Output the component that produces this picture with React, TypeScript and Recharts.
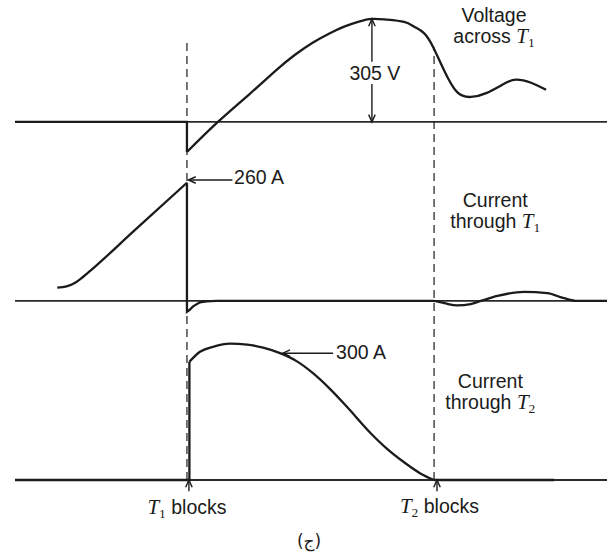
import { Line, LineChart, ReferenceDot, ReferenceLine, XAxis, YAxis } from "recharts";

const INK = "#1b1b1b";
const SANS = "'Liberation Sans', Arial, sans-serif";
const SERIF = "'Liberation Serif', 'Times New Roman', serif";

// time axis (arbitrary units): T1 blocks at t = 0, T2 blocks at t ≈ 100
const T1_BLOCKS = 0;
const T2_BLOCKS = 100.6;

// voltage across T1 (V)
const vFlatT = [-70, 0, 0];
const vFlatV = [0, 0, -89];
const vSwingT = [0, 12.6, 25.7, 36.6, 44, 51, 58, 64, 70, 75.3, 81, 88.4, 92.5, 96.5, 100.2, 104.6, 109.9, 115.6, 122.1, 129.1, 134, 140.1, 146.2];
const vSwingV = [-89, 0, 84, 155, 199, 234, 262, 282, 297, 305, 303, 296, 282, 263, 222, 154, 89, 74, 86, 113, 125, 116, 95];

// current through T1 (A)
const i1RiseT = [-52.8, -49, -45.5, -42.5, -39.4, -21.8, 0];
const i1RiseA = [29, 32, 40, 52, 66, 153, 260];
const i1DropT = [0, 0, 1, 2.5, 5.3, 8, 12];
const i1DropA = [260, -24, -20, -12, -3, -1, 0];
const i1TailT = [12, 60, 100, 104.7, 110, 115.5, 119.6, 126.4, 137.2, 146.7, 153.5, 158.9, 171];
const i1TailA = [0, 0, 0, -5, -10, -7, 0, 11, 20, 17, 6, 0, 0];

// current through T2 (A)
const i2StepT = [-70, 1, 1];
const i2StepA = [0, 0, 260];
const i2PulseT = [1, 5.3, 10.6, 17.5, 24.5, 31, 37.9, 44.8, 51.3, 58.3, 65.3, 74.8, 81.6, 88.4, 95.2, 100.6];
const i2PulseA = [260, 282, 293, 300, 298, 291, 279, 261, 235, 200, 160, 103, 68, 39, 14, 0];
const i2TailT = [100.6, 149.5];
const i2TailA = [0, 0];

const zip = (t: number[], y: number[]) => t.map((x, i) => ({ t: x, y: y[i] }));

const arrowShape = (headStart: boolean, headEnd: boolean) => (p: any) => {
  const { x1, y1, x2, y2 } = p;
  const head = (tx: number, ty: number, fx: number, fy: number) => {
    const a = Math.atan2(ty - fy, tx - fx);
    const L = 8;
    const s = 0.42;
    return `M${tx - L * Math.cos(a - s)},${ty - L * Math.sin(a - s)}L${tx},${ty}L${tx - L * Math.cos(a + s)},${ty - L * Math.sin(a + s)}`;
  };
  return (
    <g stroke={INK} strokeWidth={1.4} fill="none">
      <line x1={x1} y1={y1} x2={x2} y2={y2} />
      {headStart && <path d={head(x1, y1, x2, y2)} />}
      {headEnd && <path d={head(x2, y2, x1, y1)} />}
    </g>
  );
};

const sub = (n: string) => [
  <tspan key="T" fontFamily={SERIF} fontStyle="italic" fontSize={21}>T</tspan>,
  <tspan key="n" fontFamily={SERIF} fontSize={13.5} dy={4}>{n}</tspan>,
];

const note = (key: string, axis: string, t: number, y: number, render: (cx: number, cy: number) => any) => (
  <ReferenceDot
    key={key}
    yAxisId={axis}
    x={t}
    y={y}
    ifOverflow="visible"
    shape={(p: any) => render(p.cx, p.cy)}
  />
);

const textProps = { fill: INK, fontFamily: SANS, fontSize: 19.5 };

export default function App() {
  const curve = (key: string, axis: string, data: any[], type: "linear" | "monotone" | "natural") => (
    <Line
      key={key}
      yAxisId={axis}
      data={data}
      dataKey="y"
      type={type}
      stroke={INK}
      strokeWidth={2.3}
      dot={false}
      activeDot={false}
      isAnimationActive={false}
    />
  );

  return (
    <div style={{ position: "absolute", left: 0, top: 0, width: 608, height: 555, background: "#fff" }}>
      <LineChart width={608} height={555} margin={{ top: 0, right: 1, bottom: 0, left: 15 }}>
        <XAxis type="number" dataKey="t" domain={[-70, 171]} allowDataOverflow hide />
        <YAxis yAxisId="v" type="number" domain={[-1282, 361]} allowDataOverflow hide width={0} />
        <YAxis yAxisId="i1" type="number" domain={[-559, 662]} allowDataOverflow hide width={0} />
        <YAxis yAxisId="i2" type="number" domain={[-165, 1056]} allowDataOverflow hide width={0} />

        {/* zero lines of the three traces */}
        <ReferenceLine yAxisId="v" y={0} stroke="#2a2a2a" strokeWidth={1.8} />
        <ReferenceLine yAxisId="i1" y={0} stroke="#2a2a2a" strokeWidth={1.8} />
        <ReferenceLine yAxisId="i2" y={0} stroke="#2a2a2a" strokeWidth={1.8} />

        {/* blocking instants */}
        <ReferenceLine
          yAxisId="i2"
          segment={[{ x: T1_BLOCKS, y: 0 }, { x: T1_BLOCKS, y: 968 }]}
          ifOverflow="visible"
          stroke={INK}
          strokeWidth={1.2}
          strokeDasharray="8 5"
        />
        <ReferenceLine
          yAxisId="i2"
          segment={[{ x: T2_BLOCKS, y: 0 }, { x: T2_BLOCKS, y: 952 }]}
          ifOverflow="visible"
          stroke={INK}
          strokeWidth={1.2}
          strokeDasharray="8 5"
        />

        {curve("vFlat", "v", zip(vFlatT, vFlatV), "linear")}
        {curve("vSwing", "v", zip(vSwingT, vSwingV), "natural")}
        {curve("i1Rise", "i1", zip(i1RiseT, i1RiseA), "monotone")}
        {curve("i1Drop", "i1", zip(i1DropT, i1DropA), "linear")}
        {curve("i1Tail", "i1", zip(i1TailT, i1TailA), "monotone")}
        {curve("i2Step", "i2", zip(i2StepT, i2StepA), "linear")}
        {curve("i2Pulse", "i2", zip(i2PulseT, i2PulseA), "monotone")}
        {curve("i2Tail", "i2", zip(i2TailT, i2TailA), "linear")}

        {/* 305 V peak marker */}
        <ReferenceLine yAxisId="v" segment={[{ x: 75.3, y: 305 }, { x: 75.3, y: 178 }]} ifOverflow="visible" shape={arrowShape(true, false)} />
        <ReferenceLine yAxisId="v" segment={[{ x: 75.3, y: 112 }, { x: 75.3, y: 0 }]} ifOverflow="visible" shape={arrowShape(false, true)} />
        {/* 260 A and 300 A pointers */}
        <ReferenceLine yAxisId="i1" segment={[{ x: 0.6, y: 266 }, { x: 18.5, y: 266 }]} ifOverflow="visible" shape={arrowShape(true, false)} />
        <ReferenceLine yAxisId="i2" segment={[{ x: 39, y: 279 }, { x: 59.5, y: 279 }]} ifOverflow="visible" shape={arrowShape(true, false)} />
        {/* blocking arrows */}
        <ReferenceLine yAxisId="i2" segment={[{ x: 0.8, y: 0 }, { x: 0.8, y: -25 }]} ifOverflow="visible" shape={arrowShape(true, false)} />
        <ReferenceLine yAxisId="i2" segment={[{ x: 101.8, y: 0 }, { x: 101.8, y: -25 }]} ifOverflow="visible" shape={arrowShape(true, false)} />

        {note("vl", "v", 125, 296, (cx, cy) => (
          <text x={cx} y={cy} textAnchor="middle" {...textProps}>
            <tspan x={cx}>Voltage</tspan>
            <tspan x={cx} dy={21}>across {sub("1")}</tspan>
          </text>
        ))}
        {note("305", "v", 76.5, 124, (cx, cy) => (
          <text x={cx} y={cy} textAnchor="middle" {...textProps}>305 V</text>
        ))}
        {note("260", "i1", 19.2, 258, (cx, cy) => (
          <text x={cx} y={cy} textAnchor="start" {...textProps}>260 A</text>
        ))}
        {note("i1l", "i1", 125.5, 207, (cx, cy) => (
          <text x={cx} y={cy} textAnchor="middle" {...textProps}>
            <tspan x={cx}>Current</tspan>
            <tspan x={cx} dy={21}>through {sub("1")}</tspan>
          </text>
        ))}
        {note("300", "i2", 60.7, 266, (cx, cy) => (
          <text x={cx} y={cy} textAnchor="start" {...textProps}>300 A</text>
        ))}
        {note("i2l", "i2", 123.5, 202, (cx, cy) => (
          <text x={cx} y={cy} textAnchor="middle" {...textProps}>
            <tspan x={cx}>Current</tspan>
            <tspan x={cx} dy={21}>through {sub("2")}</tspan>
          </text>
        ))}
        {note("t1b", "i2", 0, -75, (cx, cy) => (
          <text x={cx} y={cy} textAnchor="middle" {...textProps}>
            {sub("1")}
            <tspan dy={-4}> blocks</tspan>
          </text>
        ))}
        {note("t2b", "i2", 102.8, -73, (cx, cy) => (
          <text x={cx} y={cy} textAnchor="middle" {...textProps}>
            {sub("2")}
            <tspan dy={-4}> blocks</tspan>
          </text>
        ))}
        {note("cap", "i2", 49.7, -147, (cx, cy) => (
          <text x={cx} y={cy} textAnchor="middle" fill={INK} fontFamily="'DejaVu Sans', sans-serif" fontSize={17}>(ج)</text>
        ))}
      </LineChart>
    </div>
  );
}
